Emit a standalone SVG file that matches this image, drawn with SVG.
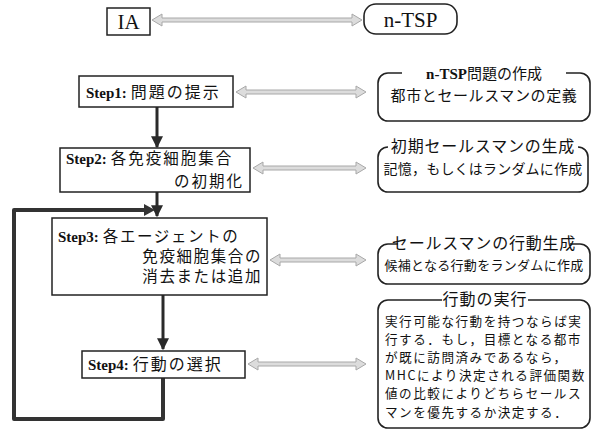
<svg xmlns="http://www.w3.org/2000/svg" width="601" height="434" viewBox="0 0 601 434">
<defs>
<style>
.box{fill:#fff;stroke:#222;stroke-width:1.5}
.rbox{fill:#fff;stroke:#222;stroke-width:1.6}
.ser{font-family:"Liberation Serif","Noto Sans CJK JP",serif;fill:#111}
.jp{font-family:"Noto Sans CJK JP",sans-serif;fill:#111}
.step{font-family:"Liberation Serif",serif;font-weight:bold;fill:#111}
.ga{fill:#dcdcdc;stroke:#a8a8a8;stroke-width:1}
.flow{fill:none;stroke:#2a2a2a;stroke-width:3}
.loop{fill:none;stroke:#333;stroke-width:4;stroke-linejoin:round}
</style>
<marker id="ah" viewBox="0 0 10 10" refX="9" refY="5" markerWidth="4" markerHeight="4" orient="auto" markerUnits="strokeWidth">
<path d="M0,0 L10,5 L0,10 z" fill="#2a2a2a"/>
</marker>
</defs>
<rect width="601" height="434" fill="#fff"/>

<g id="connectors">
<path class="ga" d="M152,20 l10,-6 v4 h190 v-4 l10,6 l-10,6 v-4 h-190 v4 z"/>
<path class="ga" d="M236,92 l10,-6 v4 h110 v-4 l10,6 l-10,6 v-4 h-110 v4 z"/>
<path class="ga" d="M253,168 l10,-6 v4 h93 v-4 l10,6 l-10,6 v-4 h-93 v4 z"/>
<path class="ga" d="M270,260 l10,-6 v4 h76 v-4 l10,6 l-10,6 v-4 h-76 v4 z"/>
<path class="ga" d="M248,364 l10,-6 v4 h98 v-4 l10,6 l-10,6 v-4 h-98 v4 z"/>
<line class="flow" x1="157" y1="106" x2="157" y2="147" marker-end="url(#ah)"/>
<line class="flow" x1="157" y1="192" x2="157" y2="216" marker-end="url(#ah)"/>
<line class="flow" x1="163" y1="295" x2="163" y2="349" marker-end="url(#ah)"/>
<polyline class="loop" points="163,377 163,419 14,419 14,210 146,210"/>
<path d="M144,204 L155,210 L144,216 z" fill="#333"/>
</g>

<g id="IA">
<rect class="box" x="107" y="8" width="43" height="27"/>
<text class="ser" x="128.5" y="29" font-size="21" text-anchor="middle">IA</text>
</g>
<g id="nTSP">
<rect class="rbox" x="364" y="4" width="93" height="30" rx="12"/>
<text class="ser" x="410.5" y="27" font-size="21" text-anchor="middle">n-TSP</text>
</g>

<g id="step1">
<rect class="box" x="79" y="76" width="154" height="31"/>
<text x="86" y="98" font-size="15"><tspan class="step">Step1:</tspan><tspan class="jp" dx="4" font-size="16" letter-spacing="2">問題の提示</tspan></text>
</g>
<g id="step2">
<rect class="box" x="60" y="148" width="190" height="44"/>
<text x="66" y="164" font-size="15"><tspan class="step">Step2:</tspan><tspan class="jp" dx="4" font-size="15.5" letter-spacing="2">各免疫細胞集合</tspan></text>
<text class="jp" x="244" y="187" font-size="15.5" letter-spacing="2" text-anchor="end">の初期化</text>
</g>
<g id="step3">
<rect class="box" x="52" y="218" width="215" height="77"/>
<text x="58" y="242" font-size="15"><tspan class="step">Step3:</tspan><tspan class="jp" dx="4" font-size="15.5" letter-spacing="1.6">各エージェントの</tspan></text>
<text class="jp" x="262" y="262" font-size="15.5" letter-spacing="1.6" text-anchor="end">免疫細胞集合の</text>
<text class="jp" x="262" y="282" font-size="15.5" letter-spacing="1.6" text-anchor="end">消去または追加</text>
</g>
<g id="step4">
<rect class="box" x="82" y="351" width="163" height="27"/>
<text x="88" y="370" font-size="15"><tspan class="step">Step4:</tspan><tspan class="jp" dx="4" font-size="16" letter-spacing="2">行動の選択</tspan></text>
</g>

<g id="r1">
<rect class="rbox" x="378" y="73" width="212" height="48" rx="10"/>
<rect x="402" y="64" width="164" height="16" fill="#fff"/>
<text x="484" y="79" font-size="15" text-anchor="middle"><tspan class="ser" font-weight="bold">n-TSP</tspan><tspan class="jp">問題の作成</tspan></text>
<text class="jp" x="484" y="101" font-size="15" letter-spacing="0.6" text-anchor="middle">都市とセールスマンの定義</text>
</g>
<g id="r2">
<rect class="rbox" x="378" y="147" width="210" height="45" rx="10"/>
<rect x="388" y="138" width="190" height="16" fill="#fff"/>
<text class="jp" x="483" y="152" font-size="16" letter-spacing="0.8" text-anchor="middle">初期セールスマンの生成</text>
<text class="jp" x="483" y="174" font-size="14" letter-spacing="0.2" text-anchor="middle">記憶，もしくはランダムに作成</text>
</g>
<g id="r3">
<rect class="rbox" x="378" y="244" width="212" height="40" rx="10"/>
<rect x="398" y="235" width="172" height="16" fill="#fff"/>
<text class="jp" x="484" y="249" font-size="16" letter-spacing="0.8" text-anchor="middle">セールスマンの行動生成</text>
<text class="jp" x="484" y="270" font-size="13" letter-spacing="0.3" text-anchor="middle">候補となる行動をランダムに作成</text>
</g>
<g id="r4">
<rect class="rbox" x="378" y="300" width="212" height="128" rx="10"/>
<rect x="442" y="291" width="86" height="16" fill="#fff"/>
<text class="jp" x="485" y="305" font-size="16" letter-spacing="1" text-anchor="middle">行動の実行</text>
<text class="jp" font-size="12.6" letter-spacing="1.5">
<tspan x="385" y="326">実行可能な行動を持つならば実</tspan>
<tspan x="385" y="344.1">行する．もし，目標となる都市</tspan>
<tspan x="385" y="362.2">が既に訪問済みであるなら，</tspan>
<tspan x="385" y="380.3">MHCにより決定される評価関数</tspan>
<tspan x="385" y="398.4">値の比較によりどちらセールス</tspan>
<tspan x="385" y="416.5">マンを優先するか決定する．</tspan>
</text>
</g>
</svg>
